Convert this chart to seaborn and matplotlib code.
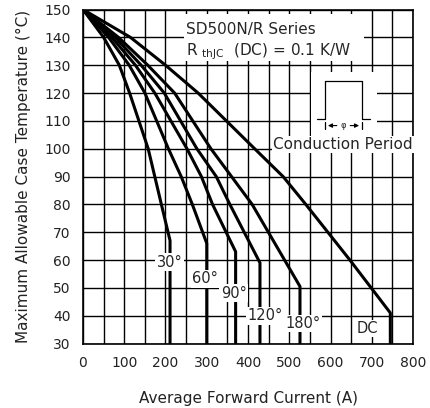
import numpy as np
import pandas as pd
import seaborn as sns
import matplotlib
matplotlib.use("Agg")
import matplotlib.pyplot as plt
from matplotlib.patches import Rectangle

# curves: current (A) vs max case temp (C)
temp_30 = [150, 140, 130, 120, 100, 90, 80, 67, 30]
current_30 = [0, 50, 88, 113, 158, 174, 190, 211, 211]

temp_60 = [150, 140, 130, 120, 100, 90, 80, 66, 30]
current_60 = [0, 62, 112, 150, 207, 238, 265, 300, 300]

temp_90 = [150, 140, 130, 120, 100, 90, 80, 63, 30]
current_90 = [0, 70, 127, 174, 252, 287, 314, 370, 370]

temp_120 = [150, 140, 130, 120, 100, 90, 80, 59, 30]
current_120 = [0, 78, 141, 197, 276, 323, 356, 429, 429]

temp_180 = [150, 140, 130, 120, 100, 90, 80, 50.5, 30]
current_180 = [0, 86, 157, 222, 310, 360, 410, 526, 526]

temp_dc = [150, 140, 130, 120, 100, 90, 80, 60, 41, 30]
current_dc = [0, 115, 200, 279, 416, 485, 540, 647, 745, 745]

labels = ["30°", "60°", "90°", "120°", "180°", "DC"]
label_pos = [(210, 59.2), (296, 53.3), (365, 48), (442, 40), (534, 37.2), (690, 35.4)]

curves = [
    (current_30, temp_30),
    (current_60, temp_60),
    (current_90, temp_90),
    (current_120, temp_120),
    (current_180, temp_180),
    (current_dc, temp_dc),
]

rows = []
for lab, (cur, tmp) in zip(labels, curves):
    for c, t in zip(cur, tmp):
        rows.append({"current": c, "temp": t, "angle": lab})
df = pd.DataFrame(rows)

sns.set_theme(style="white")
plt.rcParams["font.family"] = ["DejaVu Sans"]
fs = 10
fs_txt = 11

fig = plt.figure(figsize=(4.3, 4.08), dpi=100)
ax = fig.add_axes([0.193, 0.158, 0.7675, 0.8187])

sns.lineplot(
    data=df,
    x="current",
    y="temp",
    hue="angle",
    palette={k: "black" for k in labels},
    estimator=None,
    sort=False,
    linewidth=2.2,
    legend=False,
    ax=ax,
    zorder=4,
)

ax.set_xlim(0, 800)
ax.set_ylim(30, 150)
ax.set_xticks(np.arange(0, 801, 100))
ax.set_xticks(np.arange(50, 800, 100), minor=True)
ax.set_yticks(np.arange(30, 151, 10))
ax.grid(which="both", color="black", linewidth=1.0, zorder=1)
ax.set_axisbelow(True)
for s in ax.spines.values():
    s.set_color("black")
    s.set_linewidth(1.2)
ax.tick_params(which="both", length=0, labelsize=fs, colors="#222222", pad=9)

ax.set_xlabel("Average Forward Current (A)", fontsize=fs_txt, labelpad=15, color="#222222")
ax.set_ylabel("Maximum Allowable Case Temperature (°C)", fontsize=fs_txt, labelpad=9, color="#222222")

# white panel behind the series text
ax.add_patch(Rectangle((245, 131.5), 435, 16.8, facecolor="white", edgecolor="none", zorder=2))
ax.text(250, 142.8, "SD500N/R Series", fontsize=fs_txt, va="center", ha="left", zorder=5)
ax.text(250, 135.0, r"R $_{\mathregular{thJC}}$  (DC) = 0.1 K/W", fontsize=fs_txt, va="center", ha="left", zorder=5)

# conduction period icon
ax.add_patch(Rectangle((552, 104.5), 160, 23, facecolor="white", edgecolor="none", zorder=2))
ax.plot([567, 587, 587, 676, 676, 696], [110.7, 110.7, 124.2, 124.2, 110.7, 110.7],
        color="black", lw=0.9, zorder=5)
for xe in (587, 676):
    ax.plot([xe, xe], [107.0, 109.6], color="black", lw=0.9, zorder=5)
ax.annotate("", xy=(587, 108.3), xytext=(622, 108.3),
            arrowprops=dict(arrowstyle="-|>", lw=0.8, color="black", mutation_scale=6), zorder=5)
ax.annotate("", xy=(676, 108.3), xytext=(641, 108.3),
            arrowprops=dict(arrowstyle="-|>", lw=0.8, color="black", mutation_scale=6), zorder=5)
ax.text(631.5, 108.3, "φ", fontsize=6, ha="center", va="center", zorder=5)
ax.text(630, 101.5, "Conduction Period", fontsize=fs_txt, ha="center", va="center", zorder=5,
        bbox=dict(facecolor="white", edgecolor="none", pad=1.0))

for lab, (xp, yp) in zip(labels, label_pos):
    ax.text(xp, yp, lab, fontsize=10.5, ha="center", va="center", zorder=6,
            bbox=dict(facecolor="white", edgecolor="none", pad=1.0))

fig.savefig("out.png", dpi=100)
